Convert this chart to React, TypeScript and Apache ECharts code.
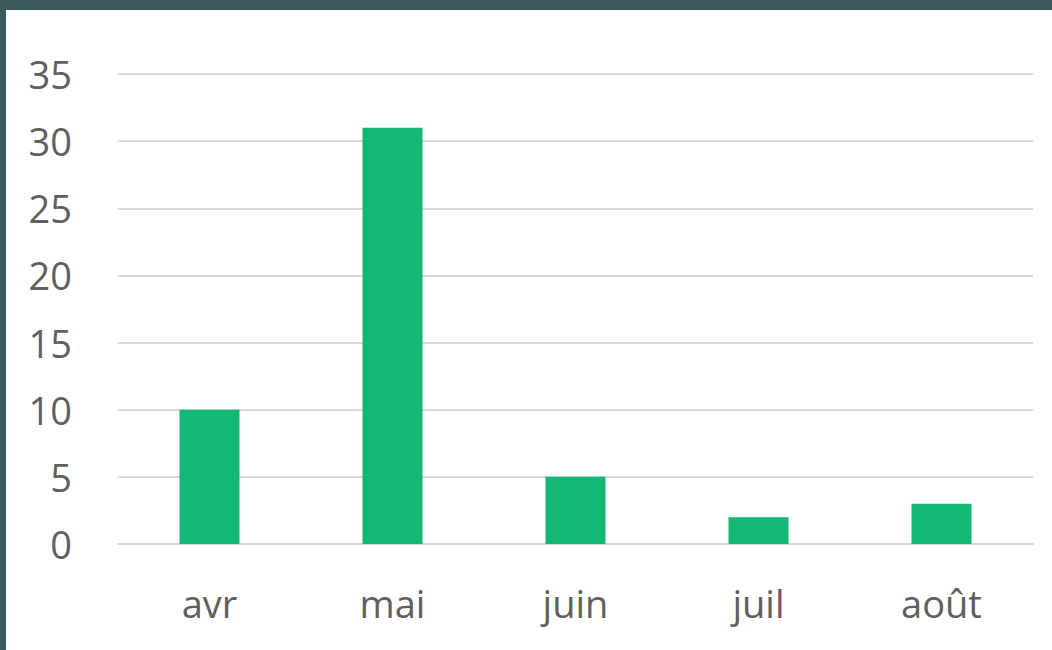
import React, { useEffect, useRef } from "react";
import * as echarts from "echarts";

const categories = ["avr", "mai", "juin", "juil", "août"];
const values = [10, 31, 5, 2, 3];
const yMin = 0;
const yMax = 35;
const yInterval = 5;

export default function App() {
  const ref = useRef<HTMLDivElement>(null);
  useEffect(() => {
    if (!ref.current) return;
    const chart = echarts.init(ref.current, undefined, { renderer: "svg" });
    chart.setOption({
      animation: false,
      grid: { left: 118, right: 19, top: 74, bottom: 106, containLabel: false },
      xAxis: {
        type: "category",
        data: categories,
        axisLine: { show: true, lineStyle: { color: "#d9d9d9", width: 2 } },
        axisTick: { show: false },
        axisLabel: {
          color: "#5f5f5f",
          fontSize: 38,
          fontFamily: "Open Sans",
          margin: 40,
        },
      },
      yAxis: {
        type: "value",
        min: yMin,
        max: yMax,
        interval: yInterval,
        axisLine: { show: false },
        axisTick: { show: false },
        splitLine: { lineStyle: { color: "#d9d9d9", width: 2 } },
        axisLabel: {
          color: "#5f5f5f",
          fontSize: 38,
          fontFamily: "Open Sans",
          margin: 46,
        },
      },
      series: [
        {
          type: "bar",
          data: values,
          barWidth: 60,
          itemStyle: { color: "#12b874" },
        },
      ],
    });
    return () => chart.dispose();
  }, []);
  return (
    <div style={{ position: "fixed", left: 0, top: 0, width: 1052, height: 650, background: "#3d5a5a" }}>
      <div style={{ position: "absolute", left: 6, top: 10, width: 1046, height: 640, background: "#ffffff" }} />
      <div ref={ref} style={{ position: "absolute", left: 0, top: 0, width: 1052, height: 650 }} />
    </div>
  );
}
